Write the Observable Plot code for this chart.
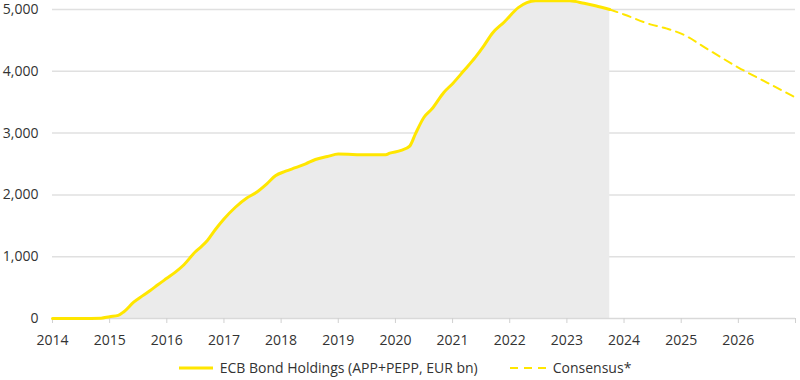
<!DOCTYPE html>
<html>
<head>
<meta charset="utf-8">
<script src="https://cdn.jsdelivr.net/npm/d3@7"></script>
<script src="https://cdn.jsdelivr.net/npm/@observablehq/plot@0.6"></script>
<style>
  body { margin: 0; background: #fff; font-family: "Open Sans", sans-serif; }
  #chart svg { display: block; }
  .legend { display: flex; justify-content: center; align-items: center; gap: 32px; font-size: 14px; color: #333; margin-top: 6px; padding-left: 10px; }
  .legend .item { display: flex; align-items: center; gap: 7px; }
</style>
</head>
<body>
<div id="chart"></div>
<div class="legend">
  <div class="item"><svg width="34" height="6"><line x1="0" y1="3" x2="34" y2="3" stroke="#ffe600" stroke-width="3"/></svg><span>ECB Bond Holdings (APP+PEPP, EUR bn)</span></div>
  <div class="item"><svg width="36" height="6"><line x1="0" y1="3" x2="36" y2="3" stroke="#ffe600" stroke-width="2" stroke-dasharray="8,6"/></svg><span>Consensus*</span></div>
</div>
<script>
const holdingsYear = [2014.0, 2014.5, 2014.85, 2015.0, 2015.15, 2015.25, 2015.42, 2015.58, 2015.71, 2015.85, 2016.0, 2016.15, 2016.3, 2016.5, 2016.6, 2016.71, 2016.85, 2017.0, 2017.2, 2017.4, 2017.55, 2017.75, 2017.9, 2018.08, 2018.25, 2018.43, 2018.6, 2018.81, 2019.0, 2019.5, 2019.83, 2019.9, 2020.1, 2020.25, 2020.35, 2020.5, 2020.64, 2020.85, 2021.0, 2021.2, 2021.4, 2021.55, 2021.7, 2021.9, 2022.15, 2022.3, 2022.45, 2023.05, 2023.3, 2023.5, 2023.75];
const holdingsValue = [0, 0, 5, 30, 50, 110, 264, 370, 453, 550, 650, 750, 870, 1080, 1160, 1262, 1440, 1610, 1800, 1950, 2030, 2180, 2310, 2383, 2440, 2503, 2573, 2621, 2660, 2650, 2650, 2675, 2720, 2790, 2988, 3257, 3393, 3662, 3800, 4013, 4230, 4417, 4620, 4794, 5030, 5110, 5140, 5140, 5100, 5060, 5000];
const consensusYear = [2023.75, 2024.0, 2024.46, 2024.75, 2025.0, 2025.5, 2026.0, 2026.5, 2027.0];
const consensusValue = [5000, 4920, 4760, 4690, 4610, 4336, 4061, 3818, 3576];
const xTicks = [2014, 2015, 2016, 2017, 2018, 2019, 2020, 2021, 2022, 2023, 2024, 2025, 2026, 2027];
const yTicks = [0, 1000, 2000, 3000, 4000, 5000];

const holdings = holdingsYear.map((x, i) => ({x, y: holdingsValue[i]}));
const consensus = consensusYear.map((x, i) => ({x, y: consensusValue[i]}));

const chart = Plot.plot({
  width: 800,
  height: 352,
  marginTop: 9,
  marginBottom: 34,
  marginLeft: 52,
  marginRight: 5,
  style: { fontFamily: "Open Sans, sans-serif", fontSize: "14px", color: "#333", background: "#fff" },
  x: { domain: [2014, 2027], ticks: xTicks, tickFormat: d => d < 2027 ? String(d) : "", tickSize: 5, tickPadding: 12, label: null },
  y: { domain: [0, 5000], ticks: yTicks, tickFormat: d3.format(","), tickSize: 0, tickPadding: 14, label: null },
  marks: [
    Plot.gridY(yTicks.filter(d => d > 0), { stroke: "#e0e0e0", strokeOpacity: 1, strokeWidth: 1.5 }),
    Plot.areaY(holdings, { x: "x", y: "y", fill: "#ebebeb", curve: "monotone-x" }),
    Plot.ruleY([0], { stroke: "#d9d9d9", strokeWidth: 1.5 }),
    Plot.axisX({ ticks: xTicks, tickFormat: d => d < 2027 ? String(d) : "", tickSize: 5, tickPadding: 12, stroke: "#d0d0d0", fill: "#333", label: null }),
    Plot.axisY({ ticks: yTicks, tickFormat: d3.format(","), tickSize: 0, tickPadding: 14, fill: "#333", label: null }),
    Plot.line(holdings, { x: "x", y: "y", stroke: "#ffe600", strokeWidth: 3, curve: "monotone-x" }),
    Plot.line(consensus, { x: "x", y: "y", stroke: "#ffe600", strokeWidth: 2, strokeDasharray: "8,6", curve: "monotone-x" })
  ]
});
document.getElementById("chart").appendChild(chart);
</script>
</body>
</html>
